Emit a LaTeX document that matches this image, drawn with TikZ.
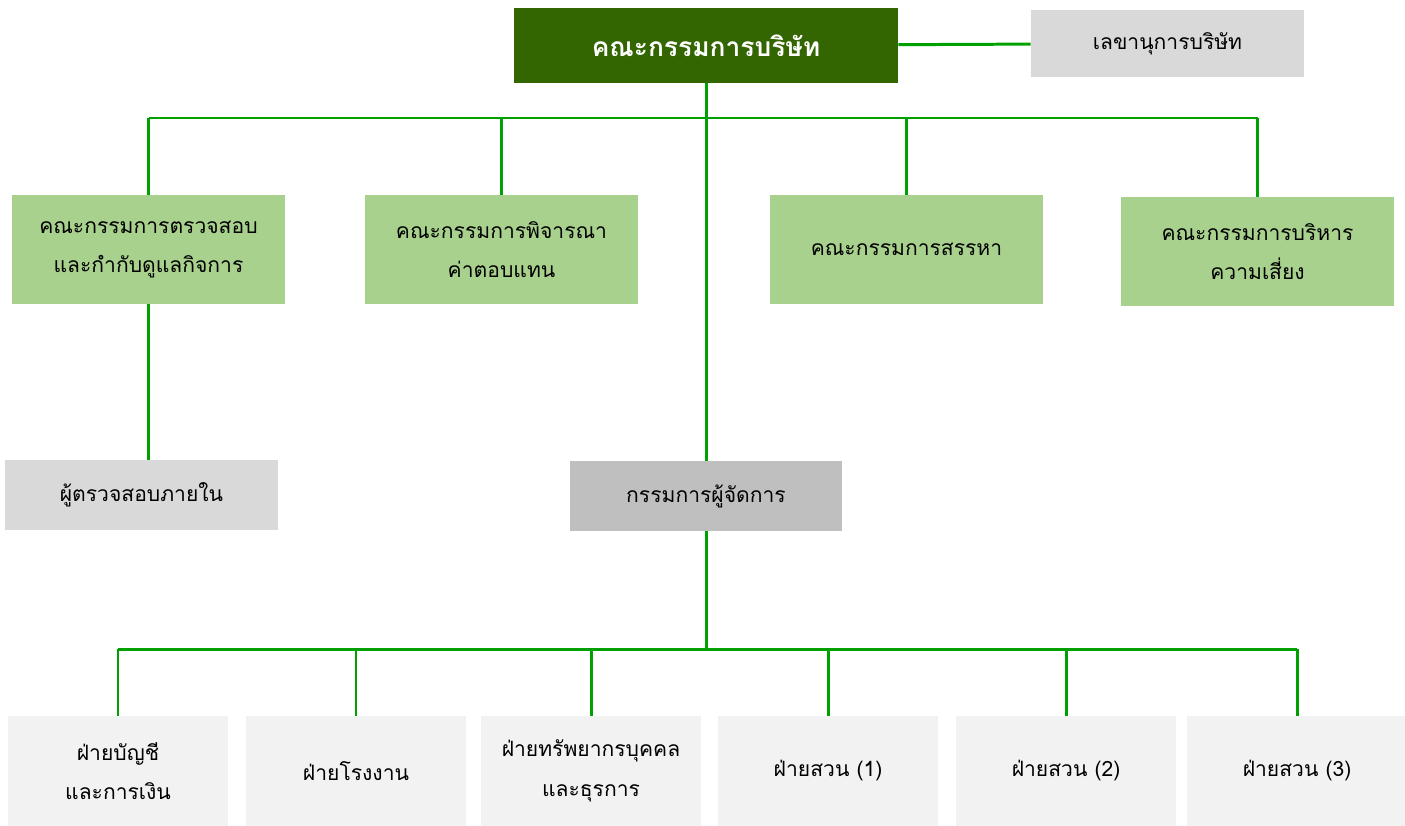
\documentclass[tikz,border=0pt]{standalone}
\usepackage{fontspec}
\newfontfamily\thaifont[Script=Thai]{Loma}
\usepackage{xcolor}

\definecolor{boardgreen}{HTML}{336600}
\definecolor{commgreen}{HTML}{A9D18E}
\definecolor{wiregreen}{HTML}{00A000}
\definecolor{greyA}{HTML}{D9D9D9}
\definecolor{greyB}{HTML}{BFBFBF}
\definecolor{greyC}{HTML}{F2F2F2}

\begin{document}
\begin{tikzpicture}[x=0.02cm,y=-0.02cm]
    \useasboundingbox (0,0) rectangle (1405,825);
    \begin{scope}[inner sep=0pt, align=center, font=\thaifont\fontsize{12}{22.5}\selectfont]
      \tikzstyle{board}=[fill=boardgreen, text=white, font=\thaifont\bfseries\fontsize{15}{18}\selectfont, minimum width=7.68cm, minimum height=1.5cm]
      \tikzstyle{comm}=[fill=commgreen, minimum width=5.46cm, minimum height=2.18cm]
      \tikzstyle{staff}=[fill=greyA, minimum width=5.46cm, minimum height=1.4cm]
      \tikzstyle{dept}=[fill=greyC, minimum width=4.4cm, minimum height=2.2cm]
      \node[board] (board) at (706 ,45.5) {คณะกรรมการบริษัท};
      \node[staff, minimum height=1.34cm] (sec) at (1167.5,43.5) {เลขานุการบริษัท};
      \node[comm] (aud)  at (148.5 ,249.5) {คณะกรรมการตรวจสอบ\\และกำกับดูแลกิจการ};
      \node[comm] (rem)  at (501.5 ,249.5) {คณะกรรมการพิจารณา\\ค่าตอบแทน};
      \node[comm] (nom)  at (906.5 ,249.5) {คณะกรรมการสรรหา};
      \node[comm] (risk) at (1257.5,251.5) {คณะกรรมการบริหาร\\ความเสี่ยง};
      \node[staff] (ia) at (141.5 ,495) {ผู้ตรวจสอบภายใน};
      \node[staff, fill=greyB] (md) at (706 ,496) {กรรมการผู้จัดการ};
      \node[dept] (acc)   at (118  ,771) {ฝ่ายบัญชี\\และการเงิน};
      \node[dept] (plant) at (356  ,771) {ฝ่ายโรงงาน};
      \node[dept] (hr)    at (591  ,771) {ฝ่ายทรัพยากรบุคคล\\และธุรการ};
      \node[dept] (g1)    at (828  ,771) {ฝ่ายสวน (1)};
      \node[dept] (g2)    at (1066 ,771) {ฝ่ายสวน (2)};
      \node[dept] (g3)    at (1297 ,771) {ฝ่ายสวน (3)};
    \end{scope}
    \coordinate (topbus) at (706,118);
    \coordinate (lowbus) at (707,649);
    \tikzstyle{wire}=[draw=wiregreen, line width=1.7pt]
    \draw[wire]  (board) -- (sec)  ;
    \draw[wire]  (board) -- (md)  ;
    \draw[wire]  (aud.north |- topbus) -- (risk.north |- topbus)  ;
    \foreach \n in {aud,rem,nom,risk}
      \draw[wire]  (\n) -- (\n |- topbus)  ;
    \draw[wire]  (aud) -- (aud |- ia.north)  ;
    \draw[wire]  (md) -- (md |- lowbus)  ;
    \draw[wire]  (acc.north |- lowbus) -- (g3.north |- lowbus)  ;
    \foreach \n in {acc,plant,hr,g1,g2,g3}
      \draw[wire]  (\n) -- (\n |- lowbus)  ;
  \end{tikzpicture}
\end{document}
